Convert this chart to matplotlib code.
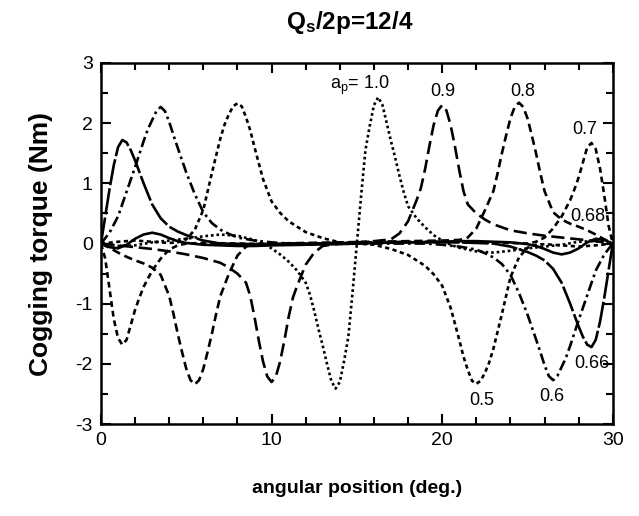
import matplotlib
matplotlib.use("Agg")
import matplotlib.pyplot as plt
from matplotlib.ticker import MultipleLocator

plt.rcParams['font.family'] = ['Liberation Sans', 'DejaVu Sans']
plt.rcParams['mathtext.default'] = 'regular'
plt.rcParams['axes.unicode_minus'] = False

# cogging torque curves, angular position in deg, torque in Nm
x_10 = [0, 1, 2, 3, 4, 5, 6, 7, 8, 9, 9.5, 10, 10.5, 11, 11.5, 12, 12.25, 12.5, 12.75, 13, 13.25, 13.5,
        13.75, 14, 14.25, 14.5, 14.75, 15, 15.25, 15.5, 15.75, 16, 16.25, 16.5, 16.75, 17, 17.25, 17.5,
        17.75, 18, 18.5, 19, 19.5, 20, 20.5, 21, 22, 23, 24, 25, 26, 27, 28, 29, 30]
y_10 = [0, -0.04, -0.03, 0.02, 0.05, 0.08, 0.12, 0.15, 0.13, 0.06, 0.0, -0.08, -0.18, -0.3, -0.45, -0.65,
        -0.85, -1.12, -1.42, -1.7, -2.0, -2.28, -2.41, -2.3, -1.95, -1.55, -0.8, 0.0, 0.8, 1.55, 1.95, 2.3,
        2.43, 2.3, 2.0, 1.7, 1.42, 1.12, 0.85, 0.62, 0.42, 0.27, 0.14, 0.05, -0.02, -0.07, -0.13, -0.15,
        -0.12, -0.08, -0.05, -0.02, 0.03, 0.04, 0]

x_09 = [0, 1, 2, 3, 4, 5, 6, 7, 7.5, 8, 8.5, 8.75, 9, 9.25, 9.5, 9.75, 10, 10.25, 10.5, 10.75, 11, 11.25,
        11.5, 12, 12.5, 13, 14, 15, 16, 17, 17.5, 18, 18.5, 18.75, 19, 19.25, 19.5, 19.75, 20, 20.25, 20.5,
        20.75, 21, 21.25, 21.5, 22, 22.5, 23, 24, 25, 26, 27, 28, 29, 30]
y_09 = [0, -0.03, -0.06, -0.09, -0.13, -0.18, -0.24, -0.32, -0.4, -0.5, -0.65, -0.87, -1.22, -1.61, -1.96,
        -2.21, -2.3, -2.21, -1.96, -1.61, -1.22, -0.9, -0.7, -0.35, -0.15, -0.04, 0.0, 0.02, 0.04, 0.07,
        0.17, 0.37, 0.72, 0.92, 1.24, 1.62, 1.97, 2.21, 2.3, 2.21, 1.96, 1.61, 1.22, 0.87, 0.65, 0.5, 0.4,
        0.32, 0.22, 0.17, 0.13, 0.1, 0.07, 0.04, 0]

x_08 = [0, 0.5, 1, 1.5, 2, 2.5, 3, 3.5, 4, 4.25, 4.5, 4.75, 5, 5.25, 5.5, 5.75, 6, 6.25, 6.5, 6.75, 7, 7.5,
        8, 8.5, 9, 10, 12, 14, 16, 18, 20, 21, 21.5, 22, 22.5, 23, 23.25, 23.5, 23.75, 24, 24.25, 24.5,
        24.75, 25, 25.25, 25.5, 25.75, 26, 26.5, 27, 27.5, 28, 28.5, 29, 29.5, 30]
y_08 = [0, -0.07, -0.15, -0.22, -0.28, -0.33, -0.4, -0.52, -0.87, -1.17, -1.5, -1.8, -2.08, -2.27, -2.34,
        -2.27, -2.08, -1.8, -1.5, -1.17, -0.87, -0.5, -0.2, -0.05, -0.01, 0.0, 0.01, 0.02, 0.03, 0.04, 0.05,
        0.06, 0.1, 0.25, 0.55, 0.87, 1.17, 1.5, 1.8, 2.08, 2.27, 2.34, 2.27, 2.08, 1.8, 1.5, 1.17, 0.87,
        0.52, 0.4, 0.33, 0.28, 0.22, 0.15, 0.07, 0]

x_07 = [0, 0.25, 0.5, 0.75, 1, 1.25, 1.5, 1.75, 2, 2.25, 2.5, 3, 3.5, 4, 4.5, 5, 6, 8, 10, 12, 14, 16, 18,
        20, 22, 24, 25, 25.5, 26, 26.5, 27, 27.5, 27.75, 28, 28.25, 28.5, 28.75, 29, 29.25, 29.5, 29.75, 30]
y_07 = [0, -0.25, -0.75, -1.25, -1.57, -1.68, -1.6, -1.35, -1.1, -0.9, -0.72, -0.45, -0.25, -0.1, -0.03,
        0.0, 0.01, 0.0, -0.01, 0.0, 0.01, 0.02, 0.03, 0.03, 0.02, 0.01, 0.0, 0.03, 0.1, 0.25, 0.45, 0.72,
        0.9, 1.1, 1.35, 1.6, 1.67, 1.57, 1.25, 0.8, 0.3, 0]

x_068 = [0, 0.5, 1, 1.5, 2, 2.5, 3, 3.5, 4, 4.5, 5, 6, 7, 8, 9, 10, 12, 14, 16, 18, 20, 21, 22, 23, 24, 25,
         25.5, 26, 26.5, 27, 27.5, 28, 28.5, 29, 29.5, 30]
y_068 = [0, -0.06, -0.08, -0.02, 0.08, 0.15, 0.18, 0.15, 0.09, 0.04, 0.01, -0.02, -0.03, -0.04, -0.04,
         -0.03, -0.02, -0.01, 0.01, 0.02, 0.03, 0.04, 0.04, 0.03, 0.02, -0.01, -0.04, -0.09, -0.15, -0.18,
         -0.15, -0.08, 0.02, 0.08, 0.06, 0]

x_066 = [0, 0.25, 0.5, 0.75, 1, 1.25, 1.5, 1.75, 2, 2.5, 3, 3.5, 4, 4.5, 5, 6, 7, 9, 12, 15, 18, 21, 23, 24,
         25, 25.5, 26, 26.5, 27, 27.5, 28, 28.25, 28.5, 28.75, 29, 29.25, 29.5, 29.75, 30]
y_066 = [0, 0.45, 0.9, 1.3, 1.6, 1.72, 1.68, 1.55, 1.38, 1.0, 0.65, 0.42, 0.28, 0.2, 0.14, 0.05, 0.0, -0.01,
         0.0, 0.01, 0.02, 0.02, 0.0, -0.05, -0.14, -0.2, -0.28, -0.42, -0.65, -1.0, -1.38, -1.55, -1.68,
         -1.72, -1.6, -1.3, -0.9, -0.45, 0]

x_06 = [0, 0.5, 1, 1.5, 2, 2.5, 2.75, 3, 3.25, 3.5, 3.75, 4, 4.25, 4.5, 5, 5.5, 6, 6.5, 7, 7.5, 8, 9, 10, 11,
        13, 15, 17, 19, 20, 21, 22, 22.5, 23, 23.5, 24, 24.5, 25, 25.5, 25.75, 26, 26.25, 26.5, 26.75, 27,
        27.25, 27.5, 28, 28.5, 29, 29.5, 30]
y_06 = [0, 0.18, 0.45, 0.86, 1.27, 1.7, 1.9, 2.05, 2.2, 2.27, 2.2, 2.02, 1.8, 1.59, 1.18, 0.82, 0.52, 0.34,
        0.23, 0.16, 0.1, 0.05, 0.02, 0.0, 0.0, 0.0, 0.0, 0.0, -0.02, -0.05, -0.1, -0.16, -0.23, -0.34, -0.52,
        -0.82, -1.18, -1.59, -1.8, -2.02, -2.2, -2.27, -2.2, -2.05, -1.9, -1.7, -1.27, -0.86, -0.45, -0.18, 0]

x_05 = [0, 1, 2, 3, 4, 4.5, 5, 5.5, 6, 6.5, 7, 7.25, 7.5, 7.75, 8, 8.25, 8.5, 8.75, 9, 9.5, 10, 10.5, 11,
        11.5, 12, 13, 14, 15, 16, 17, 18, 18.5, 19, 19.5, 20, 20.5, 21, 21.25, 21.5, 21.75, 22, 22.25, 22.5,
        22.75, 23, 23.5, 24, 24.5, 25, 25.5, 26, 27, 28, 29, 30]
y_05 = [0, 0.03, 0.05, 0.03, 0.01, 0.02, 0.07, 0.23, 0.56, 1.17, 1.75, 1.98, 2.15, 2.28, 2.33, 2.28, 2.1,
        1.88, 1.6, 1.07, 0.7, 0.51, 0.37, 0.28, 0.19, 0.09, 0.02, 0.0, -0.02, -0.09, -0.19, -0.28, -0.37,
        -0.51, -0.7, -1.07, -1.6, -1.88, -2.1, -2.28, -2.33, -2.28, -2.15, -1.98, -1.75, -1.17, -0.56,
        -0.23, -0.07, -0.02, -0.01, -0.03, -0.05, -0.03, 0]

fig = plt.figure(figsize=(6.39, 5.16), dpi=100)
ax = fig.add_axes([0.158, 0.178, 0.801, 0.700])

lw = 1.9
ax.plot(x_10, y_10, color='black', lw=lw, linestyle=(0, (1, 1.1)))
ax.plot(x_09, y_09, color='black', lw=lw, linestyle=(0, (5, 2.2)))
ax.plot(x_08, y_08, color='black', lw=lw, linestyle=(0, (3.2, 1.8)))
ax.plot(x_07, y_07, color='black', lw=lw, linestyle=(0, (2.2, 1.5)))
ax.plot(x_068, y_068, color='black', lw=lw, linestyle='-')
ax.plot(x_066, y_066, color='black', lw=lw, linestyle=(0, (10, 1.2)))
ax.plot(x_06, y_06, color='black', lw=lw, linestyle=(0, (4, 1.5, 1, 1.5)))
ax.plot(x_05, y_05, color='black', lw=lw, linestyle=(0, (1.6, 1.3)))

ax.set_xlim(0, 30)
ax.set_ylim(-3, 3)
ax.xaxis.set_major_locator(MultipleLocator(10))
ax.xaxis.set_minor_locator(MultipleLocator(2))
ax.yaxis.set_major_locator(MultipleLocator(1))
ax.yaxis.set_minor_locator(MultipleLocator(0.5))
ax.tick_params(which='both', direction='in', top=True, right=True, width=1.5, labelsize=14, pad=6)
ax.tick_params(which='major', length=7)
ax.tick_params(which='minor', length=5)
for s in ax.spines.values():
    s.set_linewidth(1.8)

ax.set_xlabel('angular position (deg.)', fontsize=14, fontweight='bold', labelpad=22)
ax.set_ylabel('Cogging torque (Nm)', fontsize=19, fontweight='bold', labelpad=16)
fig.text(0.547, 0.957, 'Q$_\\mathregular{s}$/2p=12/4', ha='center', va='center',
         fontsize=17.5, fontweight='bold')

# curve labels
ax.text(13.4, 2.62, 'a$_\\mathregular{p}$= 1.0', fontsize=13, ha='left', va='center')
ax.text(20.05, 2.52, '0.9', fontsize=13, ha='center', va='center')
ax.text(24.75, 2.52, '0.8', fontsize=13, ha='center', va='center')
ax.text(28.35, 1.89, '0.7', fontsize=13, ha='center', va='center')
ax.text(28.55, 0.45, '0.68', fontsize=13, ha='center', va='center')
ax.text(28.75, -1.99, '0.66', fontsize=13, ha='center', va='center')
ax.text(26.4, -2.54, '0.6', fontsize=13, ha='center', va='center')
ax.text(22.3, -2.6, '0.5', fontsize=13, ha='center', va='center')

fig.savefig('out.png', dpi=100)
